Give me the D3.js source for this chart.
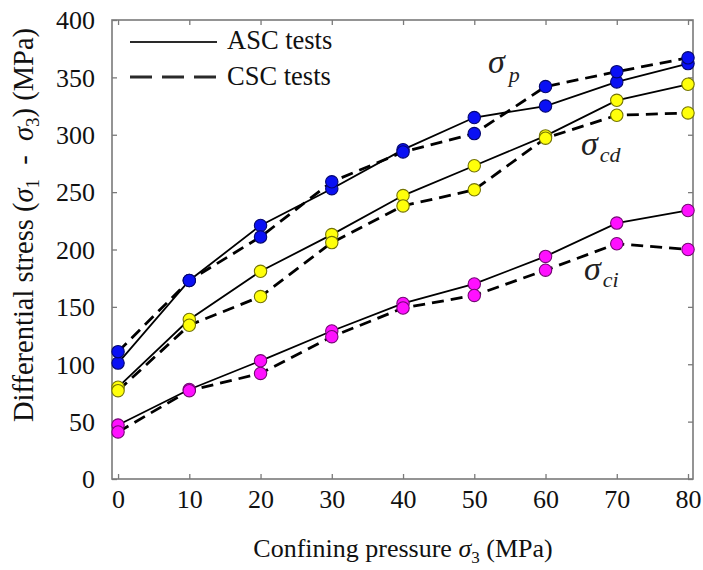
<!DOCTYPE html>
<html>
<head>
<meta charset="utf-8">
<script src="https://cdn.jsdelivr.net/npm/d3@7"></script>
<style>
  html, body { margin: 0; padding: 0; background: #fff; }
  svg { display: block; font-family: "Liberation Serif", "Times New Roman", serif; }
</style>
</head>
<body>
<svg id="chart" width="703" height="570"></svg>
<script>
// Confining pressure (MPa)
const pressures = [0, 10, 20, 30, 40, 50, 60, 70, 80];

// Peak strength σp (MPa)
const peakASC = [101, 173, 221, 253, 287, 315, 325, 346, 362];
const peakCSC = [111, 173, 211, 259, 285, 301, 342, 355, 367];

// Crack damage stress σcd (MPa)
const damageASC = [80, 139, 181, 213, 247, 273, 299, 330, 344];
const damageCSC = [77, 134, 159, 206, 238, 252, 297, 317, 319];

// Crack initiation stress σci (MPa)
const initASC = [47, 78, 103, 129, 153, 170, 194, 223, 234];
const initCSC = [41, 77, 92, 124, 149, 160, 182, 205, 200];

const xTicks = [0, 10, 20, 30, 40, 50, 60, 70, 80];
const yTicks = [0, 50, 100, 150, 200, 250, 300, 350, 400];

const series = [
  { values: peakASC,   color: "#0a10f4", dashed: false },
  { values: peakCSC,   color: "#0a10f4", dashed: true },
  { values: damageASC, color: "#ffff0a", dashed: false },
  { values: damageCSC, color: "#ffff0a", dashed: true },
  { values: initASC,   color: "#ff10ff", dashed: false },
  { values: initCSC,   color: "#ff10ff", dashed: true }
];

const svg = d3.select("#chart");
const plotLeft = 112, plotRight = 693, plotTop = 20, plotBottom = 479;

const x = d3.scaleLinear().domain([-0.85, 80.7]).range([plotLeft, plotRight]);
const y = d3.scaleLinear().domain([0, 400]).range([plotBottom, plotTop]);

const frameColor = "#7a7a7a";

// Axes with inward ticks on all four sides
const axisStyle = g => {
  g.select(".domain").remove();
  g.selectAll(".tick line").attr("stroke", frameColor).attr("stroke-width", 1.3);
  g.selectAll(".tick text")
    .attr("fill", "#111")
    .style("font-size", "26px")
    .style("font-family", "'Liberation Serif', serif");
};

svg.append("g")
  .attr("transform", `translate(0,${plotBottom})`)
  .call(d3.axisBottom(x).tickValues(xTicks).tickSizeInner(-5).tickSizeOuter(0).tickPadding(12))
  .call(axisStyle)
  .call(g => g.selectAll(".tick text").attr("dy", "0.71em").attr("y", 11));

svg.append("g")
  .attr("transform", `translate(0,${plotTop})`)
  .call(d3.axisTop(x).tickValues(xTicks).tickSizeInner(-5).tickSizeOuter(0).tickFormat(""))
  .call(axisStyle);

svg.append("g")
  .attr("transform", `translate(${plotLeft},0)`)
  .call(d3.axisLeft(y).tickValues(yTicks).tickSizeInner(-5).tickSizeOuter(0))
  .call(axisStyle)
  .call(g => g.selectAll(".tick text").attr("x", -17).attr("dy", "0.34em"));

svg.append("g")
  .attr("transform", `translate(${plotRight},0)`)
  .call(d3.axisRight(y).tickValues(yTicks).tickSizeInner(-5).tickSizeOuter(0).tickFormat(""))
  .call(axisStyle);

// Plot frame
svg.append("rect")
  .attr("x", plotLeft).attr("y", plotTop)
  .attr("width", plotRight - plotLeft).attr("height", plotBottom - plotTop)
  .attr("fill", "none")
  .attr("stroke", frameColor)
  .attr("stroke-width", 1.6);

// Lines
const line = d3.line()
  .x((d, i) => x(pressures[i]))
  .y(d => y(d));

svg.append("g").selectAll("path")
  .data(series)
  .join("path")
  .attr("d", s => line(s.values))
  .attr("fill", "none")
  .attr("stroke", "#000")
  .attr("stroke-width", s => s.dashed ? 2.8 : 1.8)
  .attr("stroke-dasharray", s => s.dashed ? "12,7" : null);

// Markers
const markers = svg.append("g");
series.forEach(s => {
  markers.append("g").selectAll("circle")
    .data(s.values)
    .join("circle")
    .attr("cx", (d, i) => x(pressures[i]))
    .attr("cy", d => y(d))
    .attr("r", 6.2)
    .attr("fill", s.color)
    .attr("stroke", d3.color(s.color).darker(2.2))
    .attr("stroke-width", 1.1);
});

// Legend
const legend = svg.append("g");
legend.append("line")
  .attr("x1", 130).attr("x2", 217).attr("y1", 42).attr("y2", 42)
  .attr("stroke", "#2a2a2a").attr("stroke-width", 2);
legend.append("line")
  .attr("x1", 130).attr("x2", 217).attr("y1", 77).attr("y2", 77)
  .attr("stroke", "#2a2a2a").attr("stroke-width", 3)
  .attr("stroke-dasharray", "22,10");
legend.append("text").attr("x", 227).attr("y", 49)
  .style("font-size", "26.5px").attr("fill", "#111").text("ASC tests");
legend.append("text").attr("x", 227).attr("y", 85)
  .style("font-size", "26.5px").attr("fill", "#111").text("CSC tests");

// Stress threshold annotations
function sigmaLabel(px, py, sub, dx, dy) {
  const t = svg.append("text")
    .attr("x", px).attr("y", py)
    .attr("fill", "#222")
    .style("font-style", "italic");
  t.append("tspan").style("font-size", "34px").text("σ");
  t.append("tspan").style("font-size", "22px").attr("dx", dx).attr("dy", dy).text(sub);
}
sigmaLabel(488, 73, "p", 4, 9);
sigmaLabel(581, 155, "cd", 2, 7);
sigmaLabel(584, 280, "ci", 2, 7);

// Axis titles
const xTitle = svg.append("text")
  .attr("x", 403).attr("y", 557)
  .attr("text-anchor", "middle")
  .attr("fill", "#111")
  .style("font-size", "26px");
xTitle.append("tspan").text("Confining pressure ");
xTitle.append("tspan").style("font-style", "italic").text("σ");
xTitle.append("tspan").style("font-size", "17px").attr("dy", 6).text("3");
xTitle.append("tspan").attr("dy", -6).text(" (MPa)");

const yTitle = svg.append("text")
  .attr("transform", "translate(33,225) rotate(-90)")
  .attr("text-anchor", "middle")
  .attr("fill", "#111")
  .style("font-size", "28.5px")
  .style("white-space", "pre");
yTitle.append("tspan").text("Differential stress (");
yTitle.append("tspan").style("font-style", "italic").text("σ");
yTitle.append("tspan").style("font-size", "19px").attr("dy", 6).text("1");
yTitle.append("tspan").attr("dy", -6).text("  -  ");
yTitle.append("tspan").style("font-style", "italic").text("σ");
yTitle.append("tspan").style("font-size", "19px").attr("dy", 6).text("3");
yTitle.append("tspan").attr("dy", -6).text(") (MPa)");
</script>
</body>
</html>
